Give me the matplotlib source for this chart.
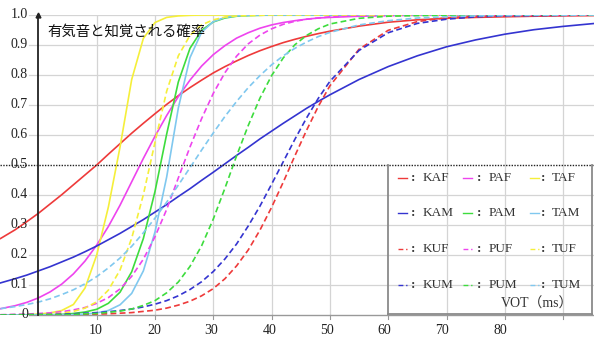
import matplotlib.pyplot as plt

# VOT sample points (ms)
vot = [-6.5, -4, -2, 0, 2, 4, 6, 8, 10, 12, 14, 16, 18, 20, 22, 24, 26, 28, 30,
       32, 34, 36, 38, 40, 42, 44, 46, 48, 50, 55, 60, 65, 70, 75, 80, 85, 90, 95.5]

kaf = [0.255, 0.284, 0.311, 0.339, 0.370, 0.401, 0.434, 0.467, 0.500, 0.536, 0.571, 0.606, 0.639,
       0.671, 0.702, 0.731, 0.758, 0.783, 0.807, 0.828, 0.847, 0.865, 0.881, 0.895, 0.908, 0.919,
       0.929, 0.938, 0.946, 0.963, 0.976, 0.984, 0.989, 0.992, 0.994, 0.996, 0.997, 0.998]
paf = [0.021, 0.031, 0.042, 0.057, 0.077, 0.103, 0.137, 0.180, 0.233, 0.295, 0.366, 0.444, 0.522,
       0.596, 0.665, 0.728, 0.783, 0.830, 0.868, 0.898, 0.923, 0.941, 0.956, 0.967, 0.975, 0.981,
       0.986, 0.990, 0.992, 0.996, 0.998, 0.999, 1.0, 1.0, 1.0, 1.0, 1.0, 1.0]
taf = [0.0, 0.0, 0.001, 0.003, 0.007, 0.015, 0.035, 0.090, 0.200, 0.360, 0.560, 0.785, 0.922,
       0.975, 0.992, 0.997, 0.999, 1.0, 1.0, 1.0, 1.0, 1.0, 1.0, 1.0, 1.0, 1.0,
       1.0, 1.0, 1.0, 1.0, 1.0, 1.0, 1.0, 1.0, 1.0, 1.0, 1.0, 1.0]
kam = [0.107, 0.121, 0.133, 0.147, 0.161, 0.177, 0.193, 0.211, 0.230, 0.251, 0.272, 0.295, 0.318,
       0.343, 0.368, 0.395, 0.421, 0.449, 0.476, 0.504, 0.532, 0.559, 0.587, 0.613, 0.639, 0.664,
       0.689, 0.712, 0.734, 0.785, 0.828, 0.864, 0.894, 0.917, 0.936, 0.951, 0.962, 0.972]
pam = [0.0, 0.0, 0.0, 0.001, 0.001, 0.002, 0.005, 0.010, 0.019, 0.039, 0.076, 0.144, 0.255,
       0.412, 0.603, 0.777, 0.889, 0.949, 0.977, 0.990, 0.996, 0.998, 0.999, 1.0, 1.0, 1.0,
       1.0, 1.0, 1.0, 1.0, 1.0, 1.0, 1.0, 1.0, 1.0, 1.0, 1.0, 1.0]
tam = [0.0, 0.0, 0.0, 0.0, 0.0, 0.0, 0.001, 0.003, 0.007, 0.015, 0.034, 0.072, 0.147,
       0.277, 0.460, 0.690, 0.858, 0.943, 0.978, 0.992, 0.997, 0.999, 1.0, 1.0, 1.0, 1.0,
       1.0, 1.0, 1.0, 1.0, 1.0, 1.0, 1.0, 1.0, 1.0, 1.0, 1.0, 1.0]
kuf = [0.0, 0.0, 0.0, 0.0, 0.0, 0.001, 0.001, 0.002, 0.003, 0.004, 0.006, 0.008, 0.012,
       0.016, 0.023, 0.033, 0.046, 0.064, 0.088, 0.121, 0.164, 0.217, 0.283, 0.359, 0.443, 0.531,
       0.616, 0.695, 0.764, 0.886, 0.949, 0.978, 0.991, 0.996, 0.998, 0.999, 1.0, 1.0]
puf = [0.001, 0.002, 0.003, 0.005, 0.007, 0.011, 0.017, 0.025, 0.039, 0.058, 0.087, 0.129, 0.186,
       0.261, 0.352, 0.457, 0.560, 0.655, 0.739, 0.808, 0.863, 0.904, 0.933, 0.954, 0.969, 0.979,
       0.986, 0.990, 0.994, 0.998, 0.999, 1.0, 1.0, 1.0, 1.0, 1.0, 1.0, 1.0]
tuf = [0.0, 0.001, 0.001, 0.002, 0.003, 0.006, 0.012, 0.023, 0.044, 0.083, 0.150, 0.256, 0.401,
       0.576, 0.746, 0.864, 0.932, 0.967, 0.984, 0.993, 0.997, 0.998, 0.999, 1.0, 1.0, 1.0,
       1.0, 1.0, 1.0, 1.0, 1.0, 1.0, 1.0, 1.0, 1.0, 1.0, 1.0, 1.0]
kum = [0.0, 0.001, 0.001, 0.002, 0.002, 0.003, 0.004, 0.006, 0.008, 0.011, 0.015, 0.020, 0.027,
       0.036, 0.048, 0.064, 0.085, 0.111, 0.145, 0.187, 0.237, 0.297, 0.363, 0.436, 0.511, 0.586,
       0.657, 0.722, 0.779, 0.882, 0.941, 0.972, 0.986, 0.994, 0.997, 0.998, 0.999, 1.0]
pum = [0.0, 0.0, 0.001, 0.001, 0.001, 0.001, 0.002, 0.004, 0.005, 0.009, 0.013, 0.020, 0.032,
       0.048, 0.074, 0.110, 0.162, 0.231, 0.320, 0.423, 0.531, 0.632, 0.723, 0.798, 0.857, 0.901,
       0.932, 0.954, 0.970, 0.989, 0.996, 0.998, 0.999, 1.0, 1.0, 1.0, 1.0, 1.0]
tum = [0.021, 0.028, 0.035, 0.043, 0.054, 0.068, 0.084, 0.104, 0.128, 0.157, 0.190, 0.229, 0.274,
       0.323, 0.376, 0.433, 0.491, 0.550, 0.607, 0.662, 0.712, 0.758, 0.798, 0.834, 0.864, 0.889,
       0.910, 0.928, 0.942, 0.967, 0.981, 0.990, 0.994, 0.997, 0.998, 0.999, 0.999, 1.0]

names = ['KAF', 'PAF', 'TAF', 'KAM', 'PAM', 'TAM', 'KUF', 'PUF', 'TUF', 'KUM', 'PUM', 'TUM']
series = [kaf, paf, taf, kam, pam, tam, kuf, puf, tuf, kum, pum, tum]

x_ticks = [10, 20, 30, 40, 50, 60, 70, 80]
y_ticks = [0.1, 0.2, 0.3, 0.4, 0.5, 0.6, 0.7, 0.8, 0.9, 1.0]

colors = ['#ee3a3a', '#ee44ee', '#f5ef3a', '#3434d0', '#3ddc3d', '#80c8ef']
line_styles = ['-'] * 6 + [(0, (3.5, 2))] * 6

serif = ['Liberation Serif', 'Noto Sans CJK JP']
grid_c = '#d4d4d4'

fig = plt.figure(figsize=(5.94, 3.38), dpi=100)
ax = fig.add_axes([0, 23 / 338, 1, 300 / 338])
ax.set_xlim(-6.59, 95.3)
ax.set_ylim(0, 1.0)
ax.axis('off')

# grid
for v in range(10, 100, 10):
    if v == 60:
        continue
    ax.plot([v, v], [0, 1.0], color=grid_c, lw=0.9, zorder=1)
for v in y_ticks:
    if v == 0.5:
        continue
    ax.plot([-1.6, 95.3], [v, v], color=grid_c, lw=0.9, zorder=1)
ax.plot([-6.59, 95.3], [0.5, 0.5], color='#222222', lw=1.0, ls=(0, (1, 1)), zorder=4)

# axes lines
ax.plot([-1.6, 95.3], [0, 0], color='#999999', lw=1.0, zorder=2, clip_on=False)
for v in range(10, 100, 10):
    ax.plot([v, v], [0, -0.012], color='#999999', lw=0.8, clip_on=False)
ax.plot([0, 0], [0, 1.0], color='#222222', lw=1.3, zorder=5, clip_on=False)
ax.plot([0], [1.0], marker='^', ms=3.5, color='#222222', zorder=5, clip_on=False)

# curves
for i, ys in enumerate(series):
    ax.plot(vot, ys, color=colors[i % 6], ls=line_styles[i], lw=1.2, zorder=3)

# tick labels
for v in x_ticks:
    ax.text(v * 0.99, -0.05, str(v), ha='center', va='center', fontsize=10,
            family=serif, color='#222222', clip_on=False)
for v in y_ticks:
    ax.text(-1.8, v, f'{v:.1f}', ha='right', va='center', fontsize=10,
            family=serif, color='#222222')
ax.text(-1.8, 0, '0', ha='right', va='center', fontsize=10, family=serif, color='#222222')

ax.text(1.5, 0.943, '有気音と知覚される確率', ha='left', va='center', fontsize=10.4,
        family=['Noto Sans CJK JP', 'DejaVu Sans'], color='#111111', zorder=6)

# legend box
box_c = '#8a8a8a'
ax.plot([60, 60], [0, 0.5], color=box_c, lw=1.3, zorder=4)
ax.plot([95.0, 95.0], [0, 0.5], color=box_c, lw=1.3, zorder=4)
ax.plot([60, 95.0], [0.002, 0.002], color=box_c, lw=1.3, zorder=4)

seg_x = [(61.7, 63.2), (72.8, 74.4), (84.4, 85.8)]
colon_x = [64.2, 75.5, 86.6]
name_x = [65.9, 77.3, 88.1]
row_y = [0.456, 0.339, 0.219, 0.10]
for i, name in enumerate(names):
    r, c = divmod(i, 3)
    y = row_y[r]
    ax.plot(seg_x[c], [y, y], color=colors[i % 6], ls=line_styles[i], lw=1.0, zorder=4)
    ax.text(colon_x[c], y, ':', ha='center', va='center', fontsize=9.5, weight='bold',
            family=serif, color='#333333')
    ax.text(name_x[c], y, name, ha='left', va='center', fontsize=9.5,
            family=serif, color='#333333')
ax.text(91.7, 0.035, 'VOT（ms）', ha='right', va='center', fontsize=10,
        family=serif, color='#333333')

fig.savefig('out.png', dpi=100)
